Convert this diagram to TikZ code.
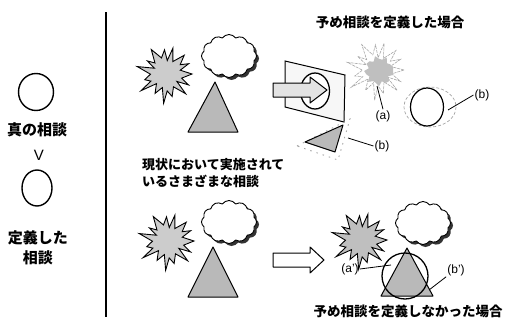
\documentclass[tikz,border=0pt]{standalone}
\usepackage{fontspec}
\setmainfont{Liberation Sans}
\newfontfamily\jp{Noto Sans CJK JP}
\usetikzlibrary{shapes.symbols}
\newcommand\burstpath[3]{(0:#2) \foreach \i in {1,...,29}{ -- ({\i*12+3*sin(\i*71)}:{ifthenelse(mod(\i,2)==0,#2+4*sin(\i*97),#3+2*cos(\i*53))}) } -- cycle}
\tikzset{
  ln/.style={line width=1.1pt},
  burst/.style={draw, line width=0.9pt, fill=gray!40, line join=miter},
  tri/.style={draw, line width=1pt, fill=gray!55, line join=round},
  cl/.style={cloud, cloud puffs=12, cloud puff arc=110, aspect=1.25, minimum width=55pt, minimum height=43pt, inner sep=0pt},
  cloudw/.style={cl, draw, line width=0.9pt, fill=white},
  cloudb/.style={cl, fill=black!80},
  jtxt/.style={font=\jp\bfseries\fontsize{15pt}{16pt}\selectfont, inner sep=0pt},
  mtxt/.style={font=\jp\bfseries\fontsize{13pt}{15pt}\selectfont, inner sep=0pt, anchor=west},
  ttl/.style={font=\jp\bfseries\fontsize{13.5pt}{15pt}\selectfont, inner sep=0pt},
  lab/.style={font=\fontsize{12pt}{13pt}\selectfont, inner sep=1pt},
}
\begin{document}
\begin{tikzpicture}[x=1pt,y=-1pt]
\useasboundingbox (0,0) rectangle (506,324);
% left panel
\draw[line width=1.4pt] (36,92) circle [x radius=17.5, y radius=18.5];
\node[jtxt] (t1) at (37,130) {真の相談};
\node[font=\fontsize{15pt}{16pt}\selectfont, inner sep=0pt] (v) at (39,155) {V};
\draw[line width=1.4pt] (37,188) circle [x radius=15, y radius=18];
\node[jtxt] (t2) at (38,238) {定義した};
\node[jtxt] (t3) at (38,258) {相談};
% divider
\draw[line width=1.3pt] (106,12) -- (106,317);
% ---------- top current group
\node[cloudb] (cb1) at (231.5,58.5) {};
\node[cloudw] (c1) at (229,56) {};
\draw[burst, shift={(166,74)}] \burstpath{0}{26}{15};
\draw[tri] (215,82) -- (188,132) -- (238,132) -- cycle;
% panel + arrow
\draw[line width=1pt, fill=gray!6] (285,61) -- (345,75) -- (344,122) -- (285,107) -- cycle;
\draw[line width=1.3pt, fill=white] (315,91) circle [x radius=14.5, y radius=18];
\draw[line width=1pt, fill=gray!22, line join=round] (273,83) -- (310,83) -- (310,77) -- (327,90) -- (310,103) -- (310,97) -- (273,97) -- cycle;
\node[ttl] (tt) at (390,22) {予め相談を定義した場合};
% fuzzy burst (a)
\draw[gray!70, line width=0.6pt, dash pattern=on 3pt off 1pt, shift={(377,70)}] \burstpath{0}{27}{14};
\fill[gray!50, shift={(379,71)}] (0:14) \foreach \i in {1,...,23}{ -- ({\i*15}:{13+2.5*sin(\i*131)}) } -- cycle;
\node[lab] (la) at (383,116) {(a)};
\draw[line width=0.8pt] (la.north) -- (377,86);
% circle (b)
\draw[gray!70, line width=0.7pt, dash pattern=on 3pt off 2pt] (430,107) ellipse [x radius=26, y radius=20];
\draw[line width=1.2pt, fill=white] (427,107) circle [x radius=16.5, y radius=19];
\node[lab] (lb1) at (482,95) {(b)};
\draw[line width=0.8pt] (lb1.west) -- (448,110);
% small triangle (b)
\draw[gray!70, line width=0.9pt, dash pattern=on 1.5pt off 5pt] (297,146) -- (350,119) -- (338,160) -- cycle;
\draw[tri] (305,142) -- (343,125) -- (335,152) -- cycle;
\node[lab] (lb2) at (382,146) {(b)};
\draw[line width=0.8pt] (lb2.west) -- (348,138);
% middle text
\node[mtxt] (m1) at (142,165) {現状において実施されて};
\node[mtxt] (m2) at (142,181) {いるさまざまな相談};
% ---------- bottom current group
\node[cloudb] (cb2) at (231.5,224.5) {};
\node[cloudw] (c2) at (229,222) {};
\draw[burst, shift={(168,241)}] \burstpath{0}{26}{15};
\draw[tri] (213,247) -- (188,297) -- (238,297) -- cycle;
\draw[line width=1pt, fill=white, line join=round] (273,253) -- (310,253) -- (310,247) -- (324,260) -- (310,273) -- (310,267) -- (273,267) -- cycle;
% bottom result group
\node[cloudb] (cb3) at (425.5,225.5) {};
\node[cloudw] (c3) at (423,223) {};
\draw[burst, fill=gray!50, shift={(361,240)}] \burstpath{0}{26}{15};
\draw[tri] (407,248) -- (381,296) -- (433,296) -- cycle;
\draw[line width=1.3pt] (405,276) circle [radius=23];
\node[lab] (la2) at (350,269) {(a')};
\draw[line width=0.8pt] (la2.east) -- (391,265);
\node[lab] (lb3) at (456,270) {(b')};
\draw[line width=0.8pt] (lb3.south west) -- (429,290);
\node[ttl] (tb) at (408,311) {予め相談を定義しなかった場合};
\end{tikzpicture}
\end{document}
